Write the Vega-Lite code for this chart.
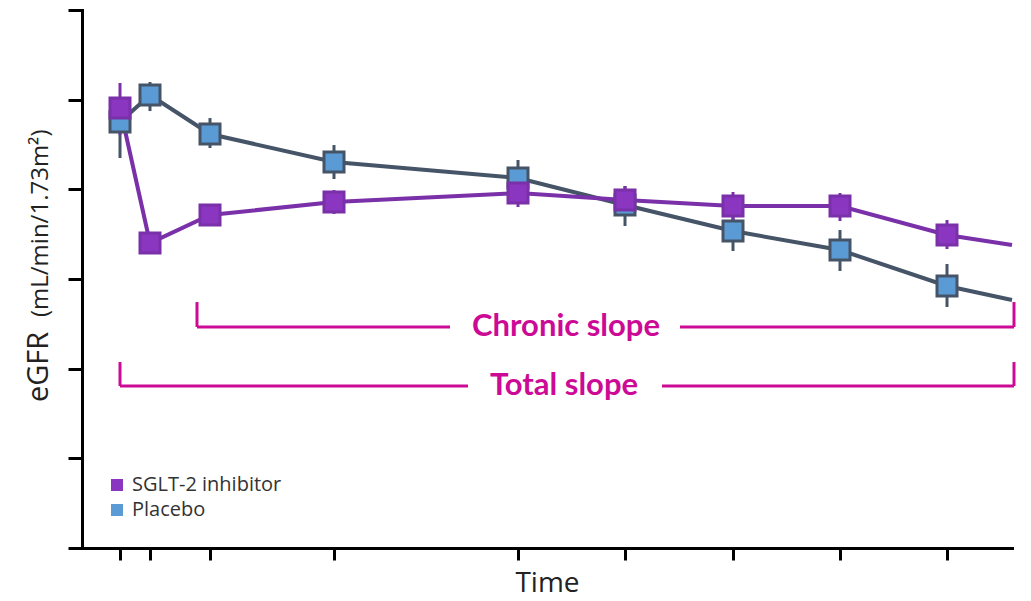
{
  "$schema": "https://vega.github.io/schema/vega-lite/v6.json",
  "width": 930,
  "height": 538,
  "autosize": {"type": "none"},
  "padding": {"left": 82, "top": 10, "right": 19, "bottom": 53},
  "background": "white",
  "config": {
    "view": {"stroke": null},
    "font": "Open Sans",
    "axis": {"labels": false, "grid": false, "domainColor": "#000000", "domainWidth": 3, "tickColor": "#000000", "tickWidth": 3, "domainCap": "square"},
    "axisX": {"tickSize": 12, "titleFontSize": 28, "titleFont": "Open Sans", "titleFontWeight": "normal", "titleColor": "#222222", "titlePadding": 8},
    "axisY": {"tickSize": 14},
    "legend": {"orient": "none", "legendX": 25, "legendY": 465, "symbolType": "square", "symbolSize": 144, "symbolStrokeWidth": 0, "labelFontSize": 20, "labelFont": "Open Sans", "labelColor": "#333333", "rowPadding": 5, "labelOffset": 5, "padding": 0}
  },
  "datasets": {
    "egfr": [
      {"series": "Placebo", "t": 0, "v": 47.51, "lo": 43.49, "hi": 49.07},
      {"series": "Placebo", "t": 3, "v": 50.52, "lo": 48.73, "hi": 51.97},
      {"series": "Placebo", "t": 9, "v": 46.17, "lo": 44.61, "hi": 47.95},
      {"series": "Placebo", "t": 21.4, "v": 43.05, "lo": 41.15, "hi": 44.94},
      {"series": "Placebo", "t": 39.8, "v": 41.26, "lo": 39.26, "hi": 43.27},
      {"series": "Placebo", "t": 50.5, "v": 38.25, "lo": 35.91, "hi": 40.37},
      {"series": "Placebo", "t": 61.3, "v": 35.35, "lo": 33.12, "hi": 37.25},
      {"series": "Placebo", "t": 72, "v": 33.23, "lo": 30.89, "hi": 35.46},
      {"series": "Placebo", "t": 82.7, "v": 29.22, "lo": 26.88, "hi": 31.67},
      {"series": "Placebo", "t": 89.2, "v": 27.66, "lo": null, "hi": null},
      {"series": "SGLT-2 inhibitor", "t": 0, "v": 49.07, "lo": 46.06, "hi": 51.86},
      {"series": "SGLT-2 inhibitor", "t": 3, "v": 34.01, "lo": 33.01, "hi": 34.79},
      {"series": "SGLT-2 inhibitor", "t": 9, "v": 37.14, "lo": 35.91, "hi": 38.36},
      {"series": "SGLT-2 inhibitor", "t": 21.4, "v": 38.59, "lo": 37.25, "hi": 39.92},
      {"series": "SGLT-2 inhibitor", "t": 39.8, "v": 39.59, "lo": 38.03, "hi": 40.82},
      {"series": "SGLT-2 inhibitor", "t": 50.5, "v": 38.81, "lo": 37.25, "hi": 40.37},
      {"series": "SGLT-2 inhibitor", "t": 61.3, "v": 38.14, "lo": 36.58, "hi": 39.7},
      {"series": "SGLT-2 inhibitor", "t": 72, "v": 38.14, "lo": 36.47, "hi": 39.59},
      {"series": "SGLT-2 inhibitor", "t": 82.7, "v": 34.91, "lo": 33.34, "hi": 36.58},
      {"series": "SGLT-2 inhibitor", "t": 89.2, "v": 33.79, "lo": null, "hi": null}
    ],
    "brackets": [
      {"x": 7.7, "x2": 7.7, "y": 24.65, "y2": 27.43},
      {"x": 7.7, "x2": 33, "y": 24.65, "y2": 24.65},
      {"x": 56, "x2": 89.4, "y": 24.65, "y2": 24.65},
      {"x": 89.4, "x2": 89.4, "y": 24.65, "y2": 27.43},
      {"x": 0, "x2": 0, "y": 18.07, "y2": 20.74},
      {"x": 0, "x2": 34.8, "y": 18.07, "y2": 18.07},
      {"x": 54.2, "x2": 89.4, "y": 18.07, "y2": 18.07},
      {"x": 89.4, "x2": 89.4, "y": 18.07, "y2": 20.74}
    ],
    "slopes": [
      {"label": "Chronic slope", "x": 44.6, "y": 24.65},
      {"label": "Total slope", "x": 44.4, "y": 18.07}
    ],
    "ytitle": [
      {"label": "eGFR", "x": -7.2, "y": 16.28, "size": 29},
      {"label": "(mL/min/1.73m²)", "x": -7.2, "y": 25.76, "size": 24}
    ]
  },
  "layer": [
    {
      "data": {"name": "egfr"},
      "mark": {"type": "line", "strokeWidth": 4},
      "encoding": {
        "x": {"field": "t", "type": "quantitative", "scale": {"domain": [-3.8, 89.2], "nice": false, "zero": false}, "axis": {"values": [0, 3, 9, 21.4, 39.8, 50.5, 61.3, 72, 82.7], "title": "Time"}},
        "y": {"field": "v", "type": "quantitative", "scale": {"domain": [0, 60], "nice": false}, "axis": {"values": [0, 10, 20, 30, 40, 50, 60], "title": null}},
        "stroke": {"field": "series", "type": "nominal", "title": null, "scale": {"domain": ["SGLT-2 inhibitor", "Placebo"], "range": ["#7a30a8", "#465468"]}}
      }
    },
    {
      "data": {"name": "egfr"},
      "transform": [{"filter": "datum.lo != null"}],
      "mark": {"type": "rule", "strokeWidth": 3},
      "encoding": {
        "x": {"field": "t", "type": "quantitative", "axis": {"title": "Time"}},
        "y": {"field": "lo", "type": "quantitative", "axis": {"title": null}},
        "y2": {"field": "hi"},
        "stroke": {"field": "series", "type": "nominal", "title": null}
      }
    },
    {
      "data": {"name": "egfr"},
      "transform": [{"filter": "datum.lo != null"}],
      "mark": {"type": "point", "shape": "square", "filled": true, "size": 400, "strokeWidth": 3, "opacity": 1},
      "encoding": {
        "x": {"field": "t", "type": "quantitative", "axis": {"title": "Time"}},
        "y": {"field": "v", "type": "quantitative", "axis": {"title": null}},
        "color": {"field": "series", "type": "nominal", "title": null, "scale": {"domain": ["SGLT-2 inhibitor", "Placebo"], "range": ["#8a36c0", "#5b9bd5"]}},
        "stroke": {"field": "series", "type": "nominal", "title": null}
      }
    },
    {
      "data": {"name": "brackets"},
      "mark": {"type": "rule", "strokeWidth": 3, "color": "#cc0a96"},
      "encoding": {
        "x": {"field": "x", "type": "quantitative", "axis": {"title": "Time"}},
        "x2": {"field": "x2"},
        "y": {"field": "y", "type": "quantitative", "axis": {"title": null}},
        "y2": {"field": "y2"}
      }
    },
    {
      "data": {"name": "slopes"},
      "mark": {"type": "text", "fontSize": 31, "fontWeight": "bold", "font": "Lato", "color": "#cc0a96", "align": "center", "baseline": "middle"},
      "encoding": {
        "x": {"field": "x", "type": "quantitative", "axis": {"title": "Time"}},
        "y": {"field": "y", "type": "quantitative", "axis": {"title": null}},
        "text": {"field": "label"}
      }
    },
    {
      "data": {"name": "ytitle"},
      "mark": {"type": "text", "angle": 270, "align": "left", "baseline": "alphabetic", "font": "Open Sans", "color": "#222222"},
      "encoding": {
        "x": {"field": "x", "type": "quantitative", "axis": {"title": "Time"}},
        "y": {"field": "y", "type": "quantitative", "axis": {"title": null}},
        "text": {"field": "label"},
        "size": {"field": "size", "type": "quantitative", "scale": null, "legend": null}
      }
    }
  ]
}
